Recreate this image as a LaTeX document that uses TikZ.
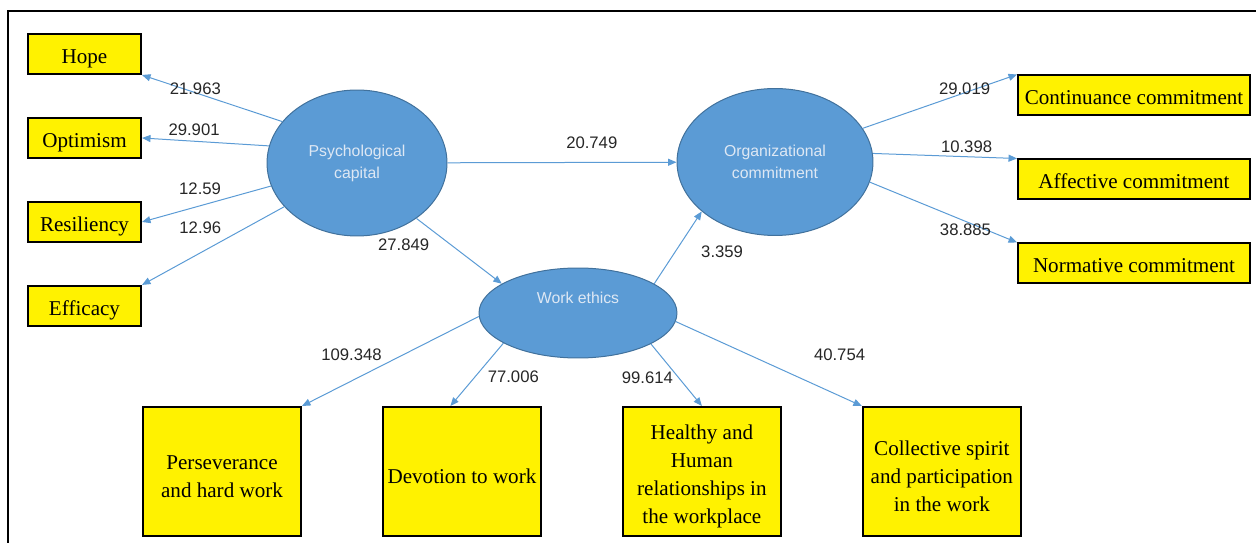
\documentclass[tikz,border=0pt]{standalone}
\usepackage{fontspec}
\setmainfont{Liberation Serif}
\setsansfont{Liberation Sans}
\usepackage{xcolor}
\usepackage{tikz}
\usetikzlibrary{shapes.geometric, arrows.meta, positioning}
\definecolor{latentblue}{RGB}{91,155,213}
\definecolor{latentedge}{RGB}{65,113,156}
\definecolor{latenttext}{RGB}{222,232,244}
\definecolor{pathblue}{RGB}{91,155,213}
\tikzstyle{arrow} = [draw=pathblue, line width=0.02cm, -{Triangle[length=0.17cm,width=0.14cm]}]
\tikzstyle{indicator} = [draw, rectangle, line width=0.04cm, fill=yellow, font=\fontsize{12}{16}\selectfont, align=center, inner sep=1pt]
\tikzstyle{pcbox} = [indicator, minimum width=2.26cm, minimum height=0.8cm, text height=0.47cm, text depth=0.09cm]
\tikzstyle{ocbox} = [indicator, minimum width=4.64cm, minimum height=0.8cm, text height=0.47cm, text depth=0.09cm]
\tikzstyle{webox} = [indicator, minimum width=3.16cm, minimum height=2.58cm]
\tikzstyle{latent} = [draw=latentedge, ellipse, line width=0.02cm, fill=latentblue, text=latenttext, font=\sffamily\fontsize{9}{12.5}\selectfont, align=center]
\tikzstyle{coef} = [font=\sffamily\fontsize{9.5}{11}\selectfont, text=black!85, inner sep=1pt]

\begin{document}
\begin{tikzpicture}[x=0.02cm, y=-0.02cm, node distance=0.84cm]
\useasboundingbox (0,0) rectangle (1256,543);
% Frame
\draw [line width=0.04cm] (8,543) -- (8,11) -- (1256,11);

% Latent variables
\node (psych) [latent, minimum width=3.6cm, minimum height=2.92cm] at (357,163) {Psychological\\capital};
\node (org) [latent, minimum width=3.92cm, minimum height=2.94cm] at (775,162) {Organizational\\commitment};
\node (ethics) [latent, minimum width=3.96cm, minimum height=1.8cm, text depth=0.6cm] at (578,313) {Work ethics};

% Indicators
\node (hope) [pcbox] at (84.5,54) {Hope};
\node (optimism) [pcbox, below=of hope] {Optimism};
\node (resiliency) [pcbox, below=of optimism] {Resiliency};
\node (efficacy) [pcbox, below=of resiliency] {Efficacy};

\node (continuance) [ocbox] at (1134,95.5) {Continuance commitment};
\node (affective) [ocbox, below=of continuance] {Affective commitment};
\node (normative) [ocbox, below=of affective] {Normative commitment};

\node (perseverance) [webox, text height=1.04cm] at (222,471.5) {Perseverance\\and hard work};
\node (devotion) [webox, text height=0.48cm, right=1.6cm of perseverance] {Devotion to work};
\node (relations) [webox, text height=2.18cm, right=1.6cm of devotion] {Healthy and\\Human\\relationships in\\the workplace};
\node (spirit) [webox, text height=1.6cm, right=1.6cm of relations] {Collective spirit\\and participation\\in the work};

% Paths
\draw [arrow] (psych.151) -- node[coef, pos=0.62, yshift=0.08cm] (c-hope) {21.963} (hope.south east);
\draw [arrow] (psych.169) -- node[coef, pos=0.59, yshift=0.23cm] (c-optimism) {29.901} (optimism.east);
\draw [arrow] (psych.195) -- node[coef, pos=0.55, yshift=0.35cm] (c-resiliency) {12.59} (resiliency.east);
\draw [arrow] (psych.211) -- node[coef, pos=0.59, yshift=0.5cm] (c-efficacy) {12.96} (efficacy.north east);

\draw [arrow] (psych) -- node[coef, pos=0.63, yshift=0.4cm] (c-org) {20.749} (org);
\draw [arrow] (psych.317) -- node[coef, pos=0.4, xshift=-0.94cm] (c-ethics) {27.849} (ethics.159);
\draw [arrow] (ethics.21) -- node[coef, pos=0.44, xshift=0.94cm] (c-mediate) {3.359} (org.214);

\draw [arrow] (org.21) -- node[coef, pos=0.66, yshift=0.09cm] (c-continuance) {29.019} (continuance.north west);
\draw [arrow] (org.5) -- node[coef, pos=0.65, yshift=0.2cm] (c-affective) {10.398} (affective.north west);
\draw [arrow] (org.348) -- node[coef, pos=0.65, yshift=-0.16cm] (c-normative) {38.885} (normative.north west);

\draw [arrow] (ethics.182) -- node[coef, pos=0.72, yshift=0.52cm] (c-perseverance) {109.348} (perseverance.north east);
\draw [arrow] (ethics.202) -- node[coef, pos=0.54, xshift=0.77cm] (c-devotion) {77.006} (devotion.100);
\draw [arrow] (ethics.337) -- node[coef, pos=0.54, xshift=-0.62cm] (c-relations) {99.614} (relations.north);
\draw [arrow] (ethics.355) -- node[coef, pos=0.88, yshift=0.82cm] (c-spirit) {40.754} (spirit.north west);
\end{tikzpicture}
\end{document}
